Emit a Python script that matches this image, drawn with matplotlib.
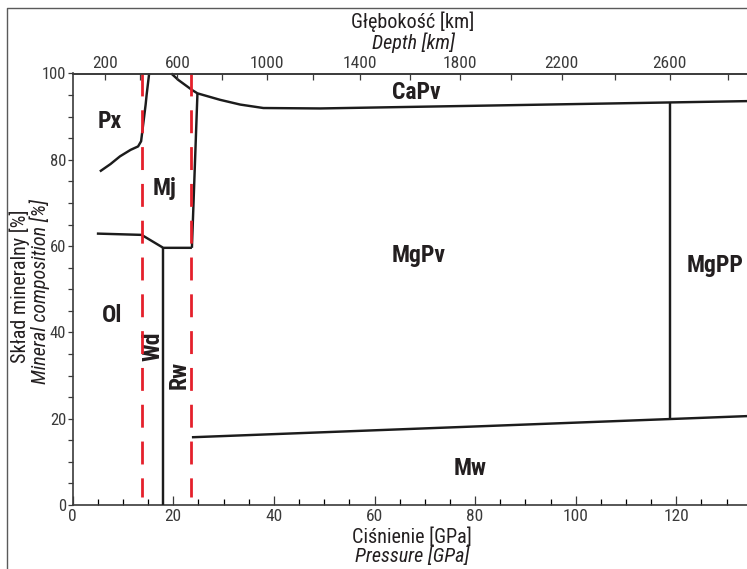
import matplotlib.pyplot as plt
from matplotlib.lines import Line2D

plt.rcParams['font.family'] = ['Roboto Condensed', 'Archivo Narrow', 'Barlow Condensed', 'DejaVu Sans']
plt.rcParams['lines.scale_dashes'] = False

# phase boundaries, pressure [GPa] vs mineral composition [%]
px_mj_p = [5.4, 7.5, 9.4, 11.5, 13.0, 13.6, 14.0, 14.5, 14.7, 15.2]
px_mj_c = [77.3, 79.0, 80.8, 82.3, 83.1, 84.3, 88.1, 92.8, 95.1, 100]

ol_p = [4.8, 13.7, 18.0, 23.7]
ol_c = [62.9, 62.6, 59.6, 59.6]

wd_rw_p = [18.0, 18.0]
wd_rw_c = [0, 59.6]

mj_pv_p = [23.7, 24.8]
mj_pv_c = [59.6, 95.4]

capv_p = [19.6, 21.0, 23.7, 24.8, 29.3, 33.3, 37.9, 49.2, 134.05]
capv_c = [100, 98.5, 96.2, 95.4, 93.9, 92.8, 92.0, 91.9, 93.6]

mgpp_p = [118.7, 118.7]
mgpp_c = [19.9, 93.2]

mw_p = [23.7, 134.05]
mw_c = [15.7, 20.6]

# discontinuities (410 km, 660 km)
disc_p = [13.7, 23.5]

# depth axis
depth_km = [200, 400, 600, 800, 1000, 1200, 1400, 1600, 1800, 2000, 2200, 2400, 2600, 2800]
depth_gpa = [6.4, 13.4, 20.8, 29.6, 38.6, 47.8, 57.1, 67.1, 77.0, 87.1, 97.2, 107.8, 118.7, 130.3]

phases = ['Px', 'Mj', 'Ol', 'CaPv', 'MgPv', 'MgPP', 'Mw']
phase_p = [7.4, 18.3, 7.75, 68.4, 68.8, 127.7, 79.0]
phase_c = [87.4, 71.9, 42.3, 94.1, 56.4, 54.1, 7.0]

W, H = 747, 569
fig = plt.figure(figsize=(W / 100, H / 100), dpi=100)
ax = fig.add_axes([72.7 / W, 64 / H, (W - 72.7) / W, 431.5 / H])

blk = '#1c1c1c'
red = '#e5202b'
lw = 1.75
for xs, ys in [(px_mj_p, px_mj_c), (ol_p, ol_c), (wd_rw_p, wd_rw_c), (mj_pv_p, mj_pv_c),
               (capv_p, capv_c), (mgpp_p, mgpp_c), (mw_p, mw_c)]:
    ax.plot(xs, ys, color=blk, lw=lw, solid_capstyle='butt', clip_on=False, zorder=3)

for p in disc_p:
    ax.plot([p, p], [100, 1.9], color=red, lw=2.0, dashes=(16.5, 10), zorder=4)

tc = '#231f20'
for name, p, c in zip(phases, phase_p, phase_c):
    ax.text(p, c, name, fontsize=17, fontweight='bold', ha='center', va='baseline', color=tc)
ax.text(16.0, 36.9, 'Wd', fontsize=17, fontweight='bold', rotation=90, ha='center', va='center', color=tc)
ax.text(21.1, 30.2, 'Rw', fontsize=17, fontweight='bold', rotation=90, ha='center', va='center', color=tc)

ax.set_xlim(0, 134.05)
ax.set_ylim(0, 100)
spc = '#3a3a3a'
for s in ['left', 'bottom', 'top']:
    ax.spines[s].set_color(spc)
    ax.spines[s].set_linewidth(1.2)
ax.spines['right'].set_visible(False)

ax.set_xticks(range(0, 121, 20))
ax.set_xticks(range(0, 135, 5), minor=True)
ax.set_yticks(range(0, 101, 20))
ax.set_yticks(range(0, 101, 5), minor=True)
ax.tick_params(axis='x', which='major', direction='in', length=6.5, width=0.9, pad=3,
               labelsize=12.5, colors=spc, top=False)
ax.tick_params(axis='x', which='minor', direction='in', length=4, width=0.9, top=False)
ax.tick_params(axis='y', which='both', direction='out', length=3.6, width=0.9, pad=1,
               labelsize=12, colors=spc, right=False)

ax2 = ax.twiny()
ax2.set_xlim(ax.get_xlim())
ax2.set_xticks(depth_gpa)
ax2.set_xticklabels([str(d) if d % 400 == 200 else '' for d in depth_km])
ax2.tick_params(axis='x', direction='in', length=4.5, width=0.9, pad=2, labelsize=12.5, colors=spc)
for s in ['left', 'bottom', 'right']:
    ax2.spines[s].set_visible(False)
ax2.spines['top'].set_color(spc)
ax2.spines['top'].set_linewidth(1.2)


def fx(x):
    return x / W


def fy(y):
    return 1 - y / H


fs = 14.5
fig.text(fx(413), fy(22), 'Głębokość [km]', fontsize=fs, ha='center', va='center', color=tc)
fig.text(fx(413), fy(43), 'Depth [km]', fontsize=fs, style='italic', ha='center', va='center', color=tc)
fig.text(fx(411.7), fy(537), 'Ciśnienie [GPa]', fontsize=fs, ha='center', va='center', color=tc)
fig.text(fx(411.7), fy(556), 'Pressure [GPa]', fontsize=fs, style='italic', ha='center', va='center', color=tc)
fig.text(fx(20), fy(286), 'Skład mineralny [%]', fontsize=fs, rotation=90, ha='center', va='center', color=tc)
fig.text(fx(40), fy(292), 'Mineral composition [%]', fontsize=fs, style='italic', rotation=90,
         ha='center', va='center', color=tc)

# outer frame
fig.add_artist(Line2D([fx(6.5), fx(6.5), 1], [0, fy(7.5), fy(7.5)], color='#5a5a5a', lw=1.0))

fig.savefig('out.png', dpi=100)
